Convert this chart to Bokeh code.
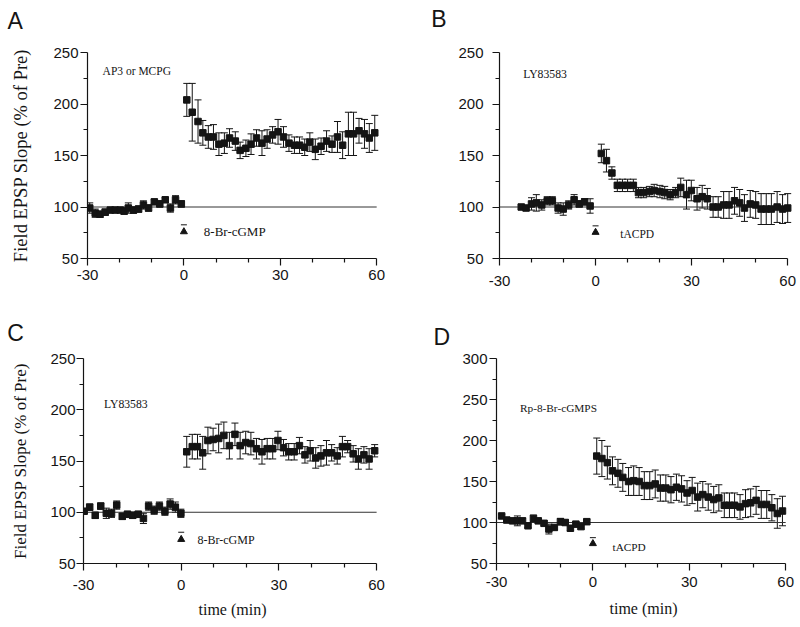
from bokeh.plotting import figure
from bokeh.layouts import row, column
from bokeh.models import Range1d, FixedTicker, Whisker, TeeHead, ColumnDataSource, Label
from bokeh.embed import file_html
from bokeh.resources import INLINE

# ---------------- data ----------------
x_major = [-30, 0, 30, 60]
x_minor = [-20, -10, 10, 20, 40, 50]
baseline_pct = 100

# Panel A : AP3 or MCPG, 8-Br-cGMP
a_t = [-29.3, -27.6, -26.1, -24.5, -22.9, -21.4, -19.8, -18.6, -17.3, -15.7, -14.1, -12.6, -11.0, -9.2, -7.5, -5.8, -4.2, -2.6, -0.8,
       0.9, 2.6, 4.4, 5.9, 7.6, 9.2, 10.9, 12.6, 14.2, 16.0, 17.5, 19.3, 20.9, 22.6, 24.3, 25.9, 27.6, 29.3, 31.0, 32.7,
       34.4, 36.0, 37.6, 39.2, 40.9, 42.7, 44.4, 46.1, 47.8, 49.4, 51.2, 52.8, 54.5, 56.2, 57.7, 59.4]
a_y = [99, 94, 93, 95, 97, 97, 97, 96, 99, 97, 98, 102, 99, 105, 103, 107, 99, 107, 103,
       204, 192, 183, 172, 168, 168, 161, 162, 167, 164, 155, 157, 161, 167, 162, 166, 170, 173, 168, 162,
       160, 160, 158, 163, 156, 159, 164, 161, 168, 160, 171, 171, 174, 171, 167, 172]
a_e = [5, 4, 3, 3, 2, 2, 2, 3, 5, 3, 3, 4, 3, 2, 3, 2, 4, 4, 3,
       16, 28, 21, 12, 11, 12, 11, 10, 9, 9, 8, 8, 10, 8, 12, 9, 8, 12, 10, 8,
       8, 8, 8, 9, 10, 8, 10, 8, 15, 13, 21, 21, 12, 14, 14, 17]

# Panel B : LY83583, tACPD
b_t = [-23.2, -21.7, -20.0, -18.5, -16.8, -15.1, -13.5, -11.7, -10.1, -8.4, -6.7, -5.1, -3.4, -1.7,
       1.8, 3.4, 5.1, 6.8, 8.4, 10.0, 11.8, 13.4, 15.0, 16.8, 18.3, 20.1, 21.6, 23.3, 25.0, 26.6, 28.4, 29.9,
       31.7, 33.3, 34.9, 36.7, 38.3, 40.0, 41.7, 43.4, 45.0, 46.5, 48.3, 50.0, 51.7, 53.3, 54.9, 56.7, 58.4, 60.0]
b_y = [100, 99, 103, 104, 102, 106, 106, 99, 98, 102, 107, 103, 105, 101,
       152, 145, 133, 121, 121, 121, 121, 114, 114, 115, 116, 115, 114, 112, 114, 119, 112, 116,
       108, 110, 108, 100, 100, 102, 102, 106, 104, 99, 103, 102, 98, 98, 98, 100, 98, 99]
b_e = [2, 2, 6, 8, 5, 4, 4, 5, 6, 4, 5, 3, 3, 7,
       9, 11, 6, 6, 6, 6, 6, 5, 5, 5, 6, 6, 6, 5, 5, 9, 14, 10,
       11, 11, 10, 10, 10, 13, 13, 13, 13, 13, 13, 13, 15, 15, 15, 15, 14, 14]

# Panel C : LY83583, 8-Br-cGMP
c_t = [-29.8, -28.1, -26.4, -24.7, -23.0, -21.4, -19.8, -18.1, -16.5, -14.9, -13.2, -11.6, -10.0, -8.3, -6.7, -5.0, -3.4, -1.8, -0.1,
       1.7, 3.4, 5.0, 6.6, 8.2, 9.8, 11.5, 13.1, 14.8, 16.5, 18.1, 19.8, 21.4, 23.1, 24.8, 26.4, 28.1, 29.7,
       31.4, 33.0, 34.7, 36.3, 38.0, 39.6, 41.3, 42.9, 44.6, 46.2, 47.9, 49.5, 51.1, 52.8, 54.4, 56.1, 57.7, 59.4]
c_y = [101, 105, 97, 106, 99, 99, 107, 96, 98, 97, 98, 94, 106, 102, 106, 101, 108, 105, 99,
       159, 164, 164, 158, 170, 171, 172, 175, 165, 176, 165, 168, 167, 162, 159, 162, 162, 170,
       163, 159, 159, 165, 156, 160, 153, 155, 158, 158, 155, 164, 164, 157, 152, 156, 152, 160]
c_e = [2, 3, 3, 3, 5, 4, 4, 3, 3, 3, 3, 5, 4, 4, 4, 4, 5, 5, 4,
       15, 12, 12, 16, 13, 11, 14, 13, 13, 11, 13, 11, 11, 10, 12, 10, 10, 9,
       8, 8, 8, 8, 8, 10, 10, 10, 12, 8, 8, 10, 6, 8, 10, 8, 10, 6]

# Panel D : Rp-8-Br-cGMPS, tACPD
d_t = [-28.4, -26.8, -25.0, -23.5, -21.9, -20.2, -18.5, -17.0, -15.2, -13.7, -12.0, -10.1, -8.6, -7.0, -5.3, -3.7, -1.9,
       1.2, 2.8, 4.5, 6.1, 7.8, 9.3, 11.1, 12.7, 14.4, 16.0, 17.7, 19.4, 21.0, 22.7, 24.3, 26.0, 27.6, 29.3,
       30.9, 32.6, 34.2, 35.9, 37.6, 39.2, 40.9, 42.5, 44.1, 45.8, 47.5, 49.1, 50.8, 52.4, 54.1, 55.7, 57.4, 59.0]
d_y = [108, 103, 102, 102, 102, 96, 105, 102, 99, 92, 94, 101, 100, 93, 98, 95, 101,
       181, 178, 173, 163, 160, 155, 150, 151, 150, 145, 145, 147, 142, 142, 140, 143, 141, 136,
       139, 131, 134, 131, 128, 130, 121, 121, 121, 119, 123, 124, 127, 122, 122, 118, 111, 114]
d_e = [2, 2, 2, 6, 3, 2, 4, 3, 3, 6, 3, 4, 3, 3, 3, 3, 3,
       22, 22, 20, 17, 17, 17, 17, 18, 17, 17, 17, 17, 16, 16, 16, 16, 16, 15,
       16, 17, 16, 16, 16, 16, 15, 15, 15, 15, 17, 17, 17, 17, 17, 16, 18, 18]

# stimulus marker (triangle) and its small cap, per panel A..D
stim_t = [0, 0, 0, 0]
stim_level = [76, 75.4, 73.5, 74.3]
stim_cap = [82.7, 81.7, 80.5, 81.5]

panel_letters = ["A", "B", "C", "D"]
drug_names = ["AP3 or MCPG", "LY83583", "LY83583", "Rp-8-Br-cGMPS"]
stim_names = ["8-Br-cGMP", "tACPD", "8-Br-cGMP", "tACPD"]
y_label = "Field EPSP Slope (% of Pre)"
x_label = "time (min)"

INK = "#141414"

# ---------------- layout settings per panel ----------------
cfgs = [
    dict(w=400, h=310, mb=(87, 19, 50, 52), yr=(50, 250), xstand=4, ystand=2, ylab=True, xlab=False,
         ylab_size="18.5px", ylab_stand=19, xlab_stand=5, drug_size="11.5px", stim_size="13px",
         letter=(-80, 32), drug=(-25.3, 232), stim=(6.2, 76)),
    dict(w=400, h=310, mb=(99, 8, 52, 50), yr=(50, 250), xstand=10, ystand=9, ylab=False, xlab=False,
         ylab_size="17px", ylab_stand=20, xlab_stand=5, drug_size="11.7px", stim_size="11.5px",
         letter=(-68.3, 34), drug=(-22.6, 228.6), stim=(7.7, 73.8)),
    dict(w=400, h=317, mb=(83, 19, 45, 64), yr=(50, 250), xstand=9, ystand=1, ylab=True, xlab=True,
         ylab_size="17px", ylab_stand=17, xlab_stand=8, drug_size="11.7px", stim_size="12px",
         letter=(-76.3, 26), drug=(-23.7, 205), stim=(5.0, 72.5)),
    dict(w=400, h=317, mb=(96, 10, 48, 60), yr=(50, 300), xstand=6, ystand=2, ylab=False, xlab=True,
         ylab_size="17px", ylab_stand=20, xlab_stand=10, drug_size="11.3px", stim_size="11.3px",
         letter=(-63, 22), drug=(-22.7, 239.3), stim=(6.1, 70.3)),
]

series = [(a_t, a_y, a_e), (b_t, b_y, b_e), (c_t, c_y, c_e), (d_t, d_y, d_e)]


def build(i):
    cfg = cfgs[i]
    t, y, e = series[i]
    l, r, tp, b = cfg["mb"]
    y0, y1 = cfg["yr"]
    p = figure(width=cfg["w"], height=cfg["h"], output_backend="svg", toolbar_location=None,
               x_range=Range1d(-30, 61.5), y_range=Range1d(y0, y1),
               min_border_left=l, min_border_right=r, min_border_top=tp, min_border_bottom=b)
    p.outline_line_color = None
    p.xgrid.visible = False
    p.ygrid.visible = False
    p.background_fill_color = "white"
    p.border_fill_color = "white"

    # panel letter, placed in the top side panel
    p.add_layout(Label(x=cfg["letter"][0], y=cfg["letter"][1], x_units="screen", y_units="screen",
                       text=panel_letters[i], text_font="Liberation Sans", text_font_size="23px",
                       text_color=INK, text_baseline="alphabetic", text_align="left"), "above")

    for ax in (p.xaxis[0], p.yaxis[0]):
        ax.axis_line_color = INK
        ax.axis_line_width = 1.2
        ax.major_tick_line_color = INK
        ax.minor_tick_line_color = INK
        ax.major_tick_line_width = 1.2
        ax.minor_tick_line_width = 1.2
        ax.major_tick_out = 7
        ax.major_tick_in = 0
        ax.minor_tick_out = 4
        ax.minor_tick_in = 0
        ax.major_label_text_font = "Liberation Sans"
        ax.major_label_text_font_size = "15px"
        ax.major_label_text_color = INK
        ax.axis_label_text_font = "Liberation Serif"
        ax.axis_label_text_font_style = "normal"
        ax.axis_label_text_color = INK

    p.xaxis.ticker = FixedTicker(ticks=x_major, minor_ticks=x_minor)
    p.xaxis.bounds = (x_major[0], x_major[-1])
    p.xaxis.major_label_standoff = cfg["xstand"]
    p.xaxis.major_label_overrides = {v: str(v) for v in x_major}
    ymaj = list(range(y0, y1 + 1, 50))
    ymin = [v + 25 for v in ymaj[:-1]]
    p.yaxis.ticker = FixedTicker(ticks=ymaj, minor_ticks=ymin)
    p.yaxis.major_label_standoff = cfg["ystand"]

    if cfg["ylab"]:
        p.yaxis.axis_label = y_label
        p.yaxis.axis_label_text_font_size = cfg["ylab_size"]
        p.yaxis.axis_label_standoff = cfg["ylab_stand"]
    if cfg["xlab"]:
        p.xaxis.axis_label = x_label
        p.xaxis.axis_label_text_font_size = "16px"
        p.xaxis.axis_label_standoff = cfg["xlab_stand"]

    # baseline at 100 %
    p.segment(x0=[x_major[0]], y0=[baseline_pct], x1=[x_major[-1]], y1=[baseline_pct],
              line_color="#333333", line_width=1)

    src = ColumnDataSource(dict(t=t, y=y,
                                up=[a + b_ for a, b_ in zip(y, e)],
                                lo=[a - b_ for a, b_ in zip(y, e)]))
    wh = Whisker(source=src, base="t", upper="up", lower="lo", line_color=INK, line_width=1,
                 upper_head=TeeHead(size=7, line_color=INK, line_width=1),
                 lower_head=TeeHead(size=7, line_color=INK, line_width=1))
    p.add_layout(wh)
    p.scatter("t", "y", source=src, marker="square", size=6.5, fill_color=INK, line_color=INK)

    # stimulus marker
    p.scatter([stim_t[i]], [stim_level[i]], marker="triangle", size=7, fill_color=INK, line_color=INK)
    p.scatter([stim_t[i]], [stim_cap[i]], marker="dash", size=6, line_color=INK, line_width=1)

    p.add_layout(Label(x=cfg["stim"][0], y=cfg["stim"][1], text=stim_names[i],
                       text_font="Liberation Serif", text_font_size=cfg["stim_size"], text_color=INK,
                       text_baseline="alphabetic", text_align="left"))
    p.add_layout(Label(x=cfg["drug"][0], y=cfg["drug"][1], text=drug_names[i],
                       text_font="Liberation Serif", text_font_size=cfg["drug_size"], text_color=INK,
                       text_baseline="alphabetic", text_align="left"))
    return p


figs = [build(i) for i in range(4)]
layout = column(row(figs[0], figs[1]), row(figs[2], figs[3]))

with open("out.html", "w") as f:
    f.write(file_html(layout, INLINE))
